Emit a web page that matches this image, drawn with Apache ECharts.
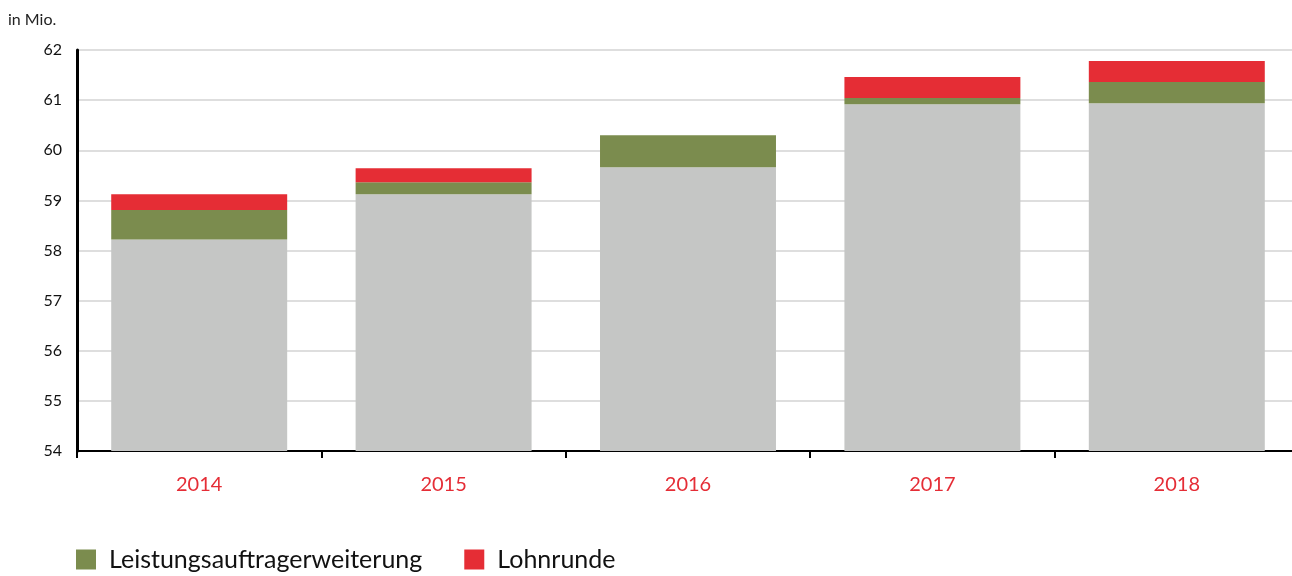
<!DOCTYPE html>
<html>
<head>
<meta charset="utf-8">
<script src="https://cdn.jsdelivr.net/npm/echarts@6/dist/echarts.min.js"></script>
<style>
  html, body { margin: 0; padding: 0; background: #fff; }
  #chart { width: 1292px; height: 576px; }
</style>
</head>
<body>
<div id="chart"></div>
<script>
const years = ['2014', '2015', '2016', '2017', '2018']
// Sockel (grau), dann gestapelte Zuwächse
const basis = [58.22, 59.12, 59.66, 60.92, 60.94]
const leistung = [0.59, 0.24, 0.64, 0.12, 0.42]
const lohnrunde = [0.31, 0.28, 0, 0.42, 0.42]
const yTicks = [54, 55, 56, 57, 58, 59, 60, 61, 62]

const chart = echarts.init(document.getElementById('chart'))

const font = 'Lato, "Open Sans", sans-serif'

const option = {
  animation: false,
  graphic: [{
    type: 'text',
    left: 8,
    top: 12,
    style: { text: 'in Mio.', fill: '#222', font: '16px ' + font }
  }],
  legend: {
    data: ['Leistungsauftragerweiterung', 'Lohnrunde'],
    left: 71,
    bottom: -1,
    icon: 'rect',
    itemWidth: 20,
    itemHeight: 20,
    itemGap: 42,
    textStyle: { color: '#111', fontSize: 25, fontFamily: font, padding: [0, 0, 0, 8] }
  },
  grid: {
    left: 77,
    width: 1222,
    top: 50,
    bottom: 125,
    outerBoundsMode: 'none'
  },
  xAxis: {
    type: 'category',
    data: years,
    axisLine: { lineStyle: { color: '#000', width: 2 } },
    axisTick: { show: true, length: 7, lineStyle: { color: '#000', width: 2 } },
    axisLabel: { color: '#e52d36', fontSize: 20, fontFamily: font, margin: 24 }
  },
  yAxis: {
    type: 'value',
    min: yTicks[0],
    max: yTicks[yTicks.length - 1],
    interval: 1,
    axisLine: { show: true, lineStyle: { color: '#000', width: 3 } },
    axisTick: { show: false },
    axisLabel: { color: '#111', fontSize: 16, fontFamily: font, margin: 15 },
    splitLine: { lineStyle: { color: '#dedede', width: 2 } }
  },
  series: [
    {
      name: 'Basis',
      type: 'bar',
      stack: 'total',
      data: basis,
      barWidth: '72%',
      itemStyle: { color: '#c5c6c5' }
    },
    {
      name: 'Leistungsauftragerweiterung',
      type: 'bar',
      stack: 'total',
      data: leistung,
      itemStyle: { color: '#7b8c4e' }
    },
    {
      name: 'Lohnrunde',
      type: 'bar',
      stack: 'total',
      data: lohnrunde,
      itemStyle: { color: '#e52d35' }
    }
  ]
}

chart.setOption(option)
</script>
</body>
</html>
